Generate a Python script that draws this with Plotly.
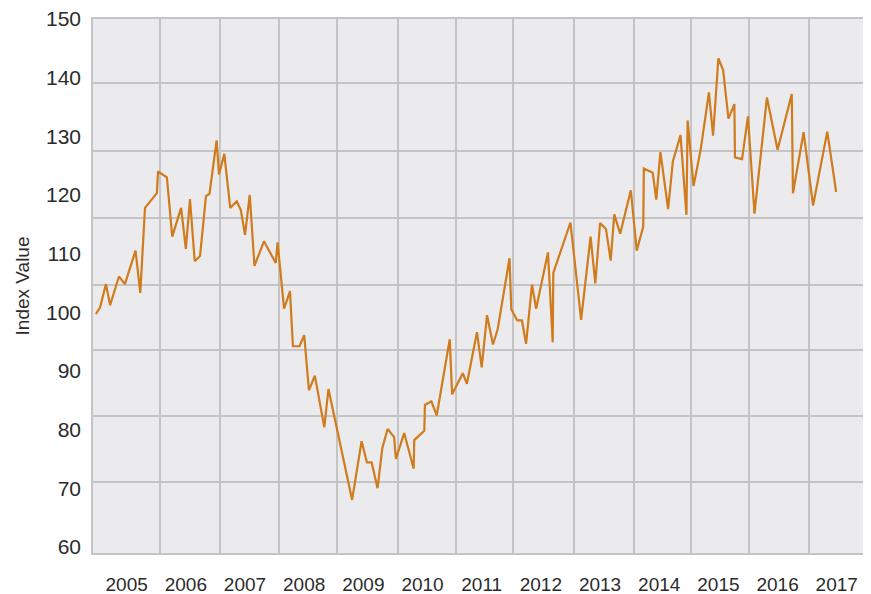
import plotly.graph_objects as go

# Time (decimal years) and index values
dates = [
    2004.98, 2005.05, 2005.15, 2005.22, 2005.37, 2005.47, 2005.65, 2005.73, 2005.81, 2006.01,
    2006.03, 2006.18, 2006.27, 2006.42, 2006.50, 2006.57, 2006.65, 2006.74, 2006.84, 2006.90,
    2007.02, 2007.06, 2007.15, 2007.25, 2007.36, 2007.43, 2007.50, 2007.58, 2007.66, 2007.82,
    2008.02, 2008.05, 2008.16, 2008.26, 2008.31, 2008.42, 2008.50, 2008.58, 2008.68, 2008.84,
    2008.91, 2009.31, 2009.47, 2009.56, 2009.64, 2009.74, 2009.82, 2009.91, 2010.02, 2010.05,
    2010.19, 2010.35, 2010.36, 2010.53, 2010.54, 2010.65, 2010.74, 2010.96, 2011.00, 2011.18,
    2011.25, 2011.42, 2011.50, 2011.59, 2011.69, 2011.77, 2011.97, 2012.00, 2012.10, 2012.18,
    2012.25, 2012.35, 2012.42, 2012.62, 2012.70, 2012.71, 2013.00, 2013.18, 2013.34, 2013.42,
    2013.50, 2013.60, 2013.68, 2013.74, 2013.84, 2014.02, 2014.12, 2014.23, 2014.24, 2014.39,
    2014.45, 2014.52, 2014.65, 2014.73, 2014.86, 2014.96, 2014.98, 2015.08, 2015.20, 2015.34,
    2015.41, 2015.50, 2015.58, 2015.67, 2015.77, 2015.78, 2015.90, 2016.00, 2016.11, 2016.32,
    2016.50, 2016.74, 2016.76, 2016.94, 2017.10, 2017.34, 2017.49,
]
values = [
    99.7, 100.8, 104.8, 101.2, 106.1, 104.8, 110.5, 103.3, 117.8, 120.3,
    124.0, 123.0, 112.9, 117.8, 110.8, 119.3, 108.7, 109.6, 119.8, 120.2,
    129.3, 123.5, 127.0, 117.8, 118.9, 117.4, 113.2, 120.0, 107.9, 112.1,
    108.4, 111.9, 100.6, 103.6, 94.2, 94.2, 96.1, 86.7, 89.2, 80.4,
    86.9, 68.0, 78.0, 74.4, 74.4, 70.0, 76.8, 80.1, 78.7, 75.0,
    79.4, 73.3, 78.2, 79.8, 84.2, 84.8, 82.4, 95.4, 86.0, 89.6,
    87.8, 96.6, 90.6, 99.5, 94.5, 97.1, 109.2, 100.5, 98.6, 98.6,
    94.6, 104.7, 100.6, 110.2, 94.9, 106.7, 115.3, 98.7, 112.9, 104.9,
    115.2, 114.2, 108.8, 116.7, 113.4, 120.8, 110.5, 114.6, 124.5, 123.8,
    119.2, 127.3, 117.6, 125.7, 130.2, 116.6, 132.7, 121.5, 127.7, 137.5,
    130.1, 143.3, 141.3, 133.0, 135.5, 126.4, 126.1, 133.4, 116.8, 136.6,
    127.7, 137.2, 120.3, 130.7, 118.2, 130.8, 120.5,
]

year_labels = [str(y) for y in range(2005, 2018)]
year_label_pos = [y + 0.5 for y in range(2005, 2018)]
y_ticks = list(range(60, 151, 10))

# grid positions as drawn in the reference (not aligned with labels)
x_grid = [2006.063, 2007.077, 2008.074, 2009.049, 2010.085, 2011.060,
          2012.024, 2013.060, 2014.074, 2015.032, 2016.022, 2017.031]
y_grid = [139.09, 127.54, 116.07, 104.70, 93.62, 82.24, 70.99]

GRID = "#c4c4c7"
TEXT = "#2b2b2b"
FONT = "Liberation Sans"

fig = go.Figure()
fig.add_trace(go.Scatter(
    x=dates, y=values, mode="lines",
    line=dict(color="#d07b1c", width=2.2),
    showlegend=False, hoverinfo="skip",
))

# the page body adds an 8px offset, margins compensate for it
fig.update_layout(
    width=871, height=594,
    margin=dict(l=85, r=8, t=11, b=49),
    paper_bgcolor="white",
    plot_bgcolor="#ebebee",
    font=dict(family=FONT, color=TEXT),
)
fig.update_xaxes(
    range=[2004.931, 2018.079], automargin=False,
    tickmode="array", tickvals=year_label_pos, ticktext=year_labels,
    showgrid=False, zeroline=False, ticks="",
    tickfont=dict(size=19, family=FONT, color=TEXT),
    ticklabelstandoff=13, ticklabeloverflow="allow",
    showline=True, mirror=True, linecolor=GRID, linewidth=1.5,
    minor=dict(tickmode="array", tickvals=x_grid, showgrid=True,
               gridcolor=GRID, gridwidth=1.5, ticks=""),
)
fig.update_yaxes(
    range=[58.95, 150], automargin=False,
    tickmode="array", tickvals=y_ticks,
    showgrid=False, zeroline=False, ticks="",
    tickfont=dict(size=21, family=FONT, color=TEXT),
    ticklabelstandoff=6, ticklabeloverflow="allow",
    showline=True, mirror=True, linecolor=GRID, linewidth=1.5,
    minor=dict(tickmode="array", tickvals=y_grid, showgrid=True,
               gridcolor=GRID, gridwidth=1.5, ticks=""),
    title=dict(text="Index Value", font=dict(size=19, family=FONT, color=TEXT), standoff=11),
)

fig.write_html("out.html")
